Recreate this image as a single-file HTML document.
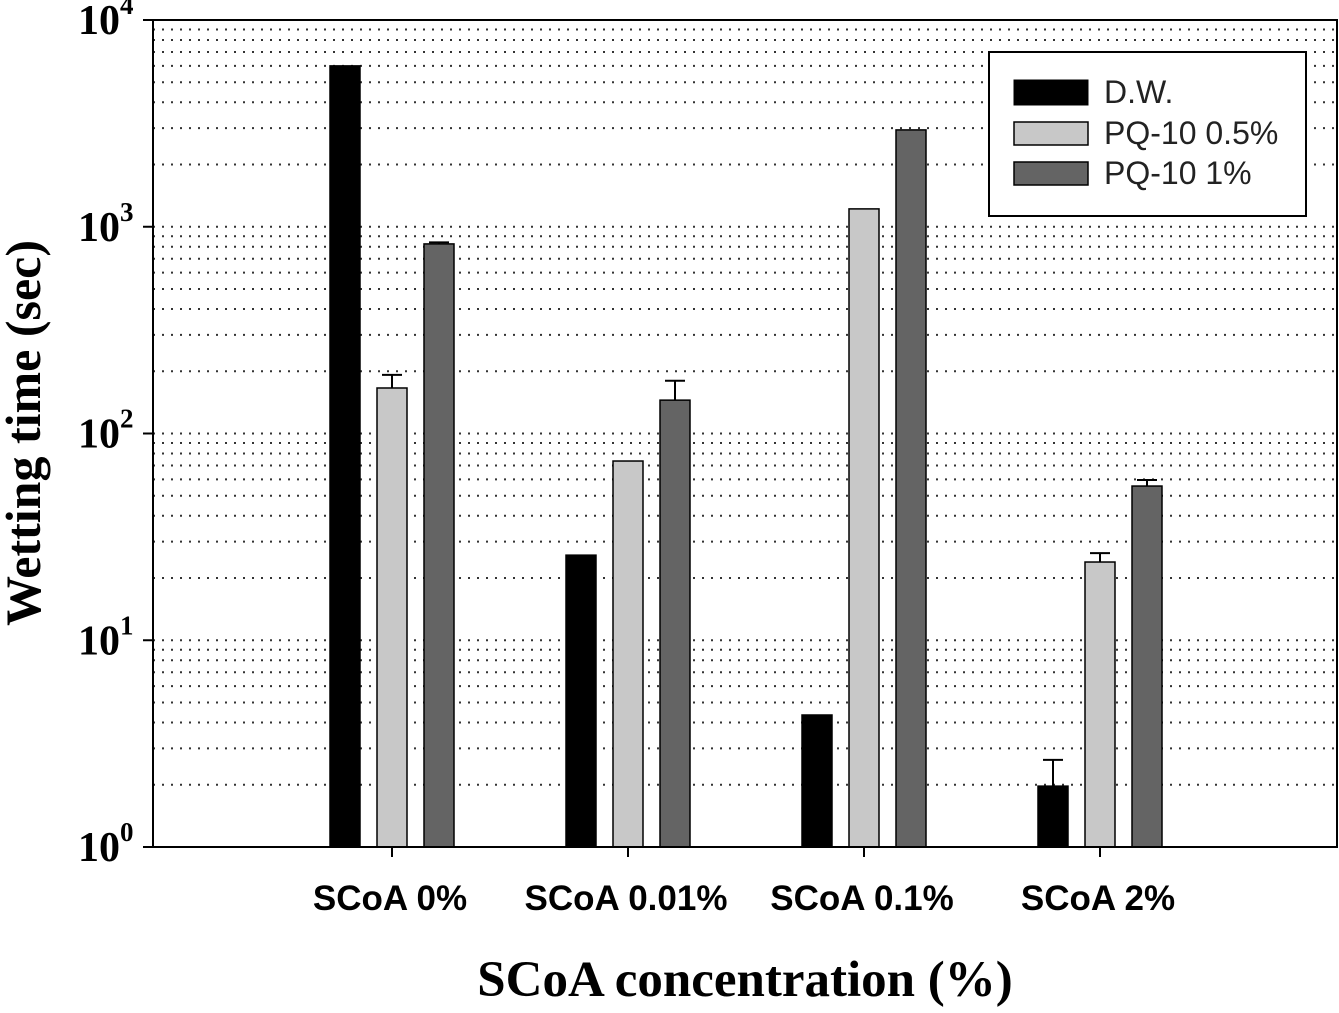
<!DOCTYPE html>
<html><head><meta charset="utf-8"><style>
body{margin:0;background:#fff;}
svg text{font-family:"Liberation Sans",Arial,sans-serif;}
</style></head><body>
<svg id="chart" width="1339" height="1008" xmlns="http://www.w3.org/2000/svg">
<g id="grid"></g>
<g id="bars"></g>
<rect x="153" y="20" width="1184" height="827" fill="none" stroke="#000" stroke-width="2"/>
<g id="axes"></g>
<text transform="translate(40,433) rotate(-90)" text-anchor="middle" font-weight="bold" font-size="50" style="font-family:'Liberation Serif',serif">Wetting time (sec)</text>
<text x="745" y="996" text-anchor="middle" font-weight="bold" font-size="51" style="font-family:'Liberation Serif',serif">SCoA concentration (%)</text>
<g>
<rect x="989" y="52" width="317" height="164" fill="#fff" stroke="#000" stroke-width="2"/>
<rect x="1014" y="80" width="74" height="25" fill="#000" stroke="#000"/>
<text x="1104" y="103" font-size="32" fill="#222">D.W.</text>
<rect x="1014" y="122" width="74" height="23" fill="#c8c8c8" stroke="#000" stroke-width="1.5"/>
<text x="1104" y="144" font-size="32" fill="#222">PQ-10 0.5%</text>
<rect x="1014" y="162" width="74" height="23" fill="#646464" stroke="#000" stroke-width="1.5"/>
<text x="1104" y="184" font-size="32" fill="#222">PQ-10 1%</text>
</g>
</svg>
<script>
const categories=["SCoA 0%","SCoA 0.01%","SCoA 0.1%","SCoA 2%"];
const seriesNames=["D.W.","PQ-10 0.5%","PQ-10 1%"];
const dwValues=[6000,25.8,4.35,1.97];
const pq05Values=[166,73.6,1220,23.9];
const pq1Values=[826,145,2940,55.7];
const dwErr=[null,null,null,2.64];
const pq05Err=[192,null,null,26.4];
const pq1Err=[840,180,null,59.6];
const yTickExps=[0,1,2,3,4];
const ns="http://www.w3.org/2000/svg";
const X0=153,X1=1337,Y0=847,DEC=206.75;
function y(v){return Y0-Math.log10(v)*DEC;}
function xc(i){return 392+i*236;}
function mk(tag,attrs,parent){const e=document.createElementNS(ns,tag);for(const k in attrs)e.setAttribute(k,attrs[k]);parent.appendChild(e);return e;}
const grid=document.getElementById('grid'),bars=document.getElementById('bars'),axes=document.getElementById('axes');
for(let d=0;d<4;d++){for(let m=2;m<=10;m++){const v=m*Math.pow(10,d);const yy=y(v);
const l=mk('line',{x1:X0,x2:X1,y1:yy,y2:yy,stroke:'#333','stroke-width':2,'stroke-dasharray':'2 7'},grid);

}}
yTickExps.forEach(e=>{const yy=y(Math.pow(10,e));
mk('line',{x1:X0-10,x2:X0,y1:yy,y2:yy,stroke:'#000','stroke-width':2},axes);
const t=mk('text',{x:78,y:yy+14,'font-size':42,'font-weight':'bold'},axes);
t.style.fontFamily="'Liberation Serif',serif";


t.innerHTML='10<tspan dy="-20" font-size="27">'+e+'</tspan>';});
const vals=[dwValues,pq05Values,pq1Values],errs=[dwErr,pq05Err,pq1Err],fills=['#000','#c8c8c8','#646464'];
categories.forEach((c,i)=>{
mk('line',{x1:xc(i),x2:xc(i),y1:Y0,y2:Y0+10,stroke:'#000','stroke-width':2},axes);
const t=mk('text',{x:xc(i)-2,y:910,'font-size':35,'font-weight':'bold','text-anchor':'middle'},axes);


t.textContent=c;
for(let s=0;s<3;s++){const cx=xc(i)+(s-1)*47;const top=y(vals[s][i]);
const r=mk('rect',{x:cx-15,y:top,width:30,height:Y0-top,fill:fills[s],stroke:'#000','stroke-width':1.5},bars);


const ev=errs[s][i];if(ev){const ey=y(ev);
const el=mk('path',{d:`M${cx} ${top}V${ey}M${cx-10} ${ey}H${cx+10}`,stroke:'#000','stroke-width':2,fill:'none'},bars);

}}});
</script>
</body></html>
